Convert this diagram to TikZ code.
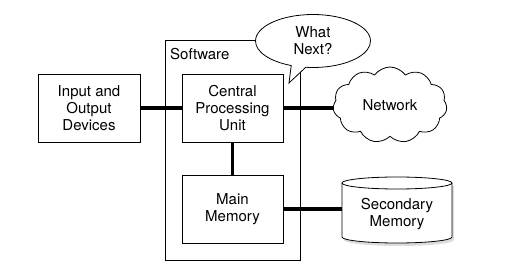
\documentclass[tikz,border=0pt]{standalone}
\usepackage{fontspec}
\setmainfont{TeX Gyre Heros}
\usetikzlibrary{shapes.symbols,shapes.callouts,shapes.geometric}

\begin{document}
\begin{tikzpicture}[x=1pt,y=-1pt,
  lbl/.style={font=\fontsize{15}{17}\selectfont, align=center},
  box/.style={lbl, draw, line width=0.8pt, inner sep=0pt,
              minimum width=101pt, minimum height=68pt},
  link/.style={line width=3.6pt},
  thin/.style={line width=0.8pt}]
\useasboundingbox (0,0) rectangle (525,272);

% software frame and its label
\draw[thin] (165,40) rectangle (300,260);
\node[lbl, anchor=base west, inner sep=0pt] (swlabel) at (170,60) {Software};

% boxes
\node[box, minimum width=102pt] (io) at (89,108) {Input and\\Output\\Devices};
\node[box] (cpu) at (232.5,108) {Central\\Processing\\Unit};
\node[box] (mm) at (232.5,209) {Main\\Memory};

% thought bubble
\node[lbl, ellipse callout, draw, thin, fill=white, inner sep=0pt,
      minimum width=115pt, minimum height=53pt,
      callout absolute pointer={(289,83)}] (bubble) at (313,41) {What\\Next?};

% network cloud
\node[lbl, cloud, draw, thin, fill=white, cloud puffs=11, cloud puff arc=110,
      aspect=1.5, inner sep=0pt, minimum width=114pt, minimum height=76pt]
      (net) at (390,105) {Network};

% secondary memory drum
\fill[gray!45, opacity=0.6] (344,186) -- (344,240)
  arc[start angle=180, end angle=360, x radius=55pt, y radius=6pt]
  -- (454,186) -- cycle;
\draw[thin, fill=white] (342,183) -- (342,237)
  arc[start angle=180, end angle=360, x radius=55pt, y radius=6pt]
  -- (452,183)
  arc[start angle=0, end angle=180, x radius=55pt, y radius=6pt] -- cycle;
\draw[thin] (342,183)
  arc[start angle=180, end angle=360, x radius=55pt, y radius=6pt];
\node[lbl, inner sep=0pt, minimum width=110pt, minimum height=54pt]
  (sec) at (397,214) {Secondary\\Memory};

% connections
\draw[link] (io.east) -- (cpu.west);
\draw[link] (cpu.east) -- (net.west |- cpu.east);
\draw[link] (cpu.south) -- (mm.north);
\draw[link] (mm.east) -- (sec.west |- mm.east);
\end{tikzpicture}
\end{document}
